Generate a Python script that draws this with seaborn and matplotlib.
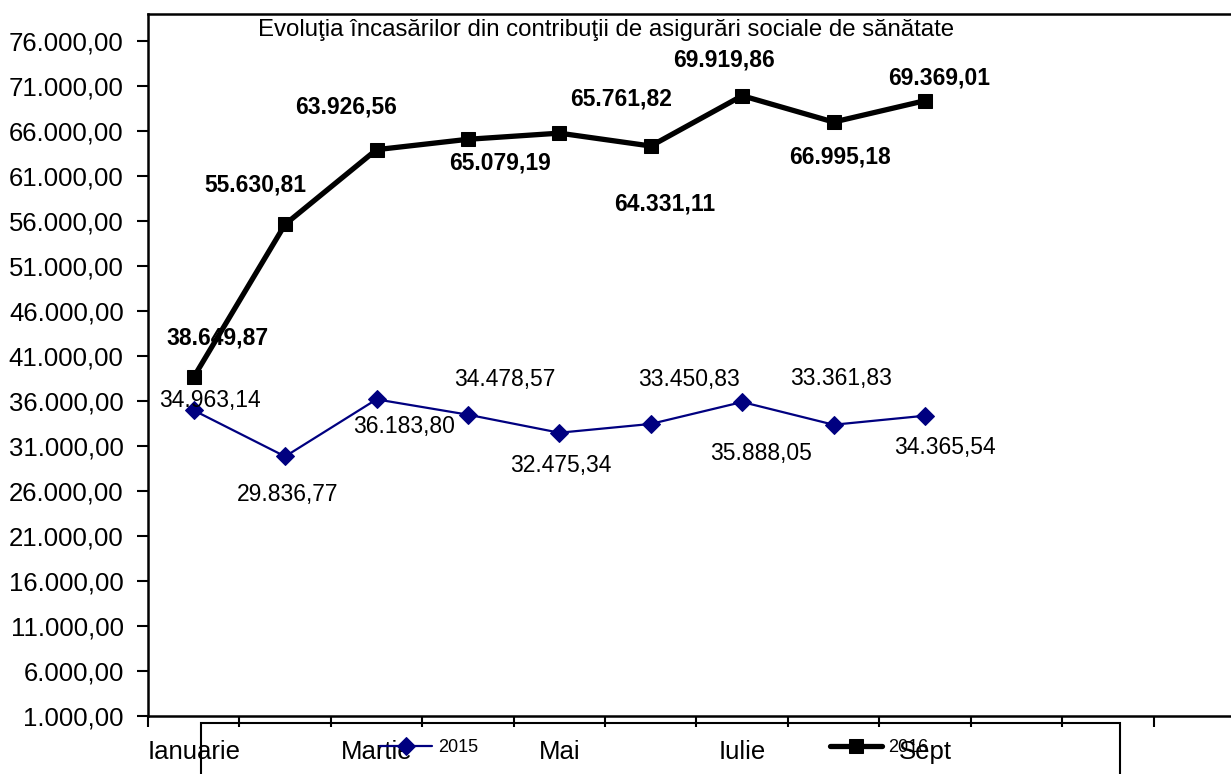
import numpy as np
import pandas as pd
import matplotlib
matplotlib.use("Agg")
import matplotlib.pyplot as plt
from matplotlib.patches import Rectangle
import seaborn as sns

# --- data ---
luni = ["Ianuarie", "Februarie", "Martie", "Aprilie", "Mai", "Iunie",
        "Iulie", "August", "Sept"]
val_2015 = [34963.14, 29836.77, 36183.80, 34478.57, 32475.34, 33450.83,
            35888.05, 33361.83, 34365.54]
val_2016 = [38649.87, 55630.81, 63926.56, 65079.19, 65761.82, 64331.11,
            69919.86, 66995.18, 69369.01]
etichete_x = ["Ianuarie", "", "Martie", "", "Mai", "", "Iulie", "", "Sept"]
y_ticks = list(range(1000, 76001, 5000))

# label offsets in pixels (dx, dy)
off_2015 = [(16, 10), (3, -38), (27, -27), (37, 35), (1, -33), (38, 44),
            (19, -51), (7, 46), (20, -32)]
off_2016 = [(24, 39), (-30, 39), (-30, 43), (32, -24), (62, 34), (14, -58),
            (-18, 36), (6, -35), (14, 23)]

def fmt_ro(v):
    s = f"{v:,.2f}"
    return s.replace(",", "X").replace(".", ",").replace("X", ".")

df = pd.DataFrame({"luna": luni, "2015": val_2015, "2016": val_2016})

sns.set_style("white")
plt.rcParams['font.family'] = ['Liberation Sans', 'DejaVu Sans']
plt.rcParams['text.color'] = 'black'
plt.rcParams['xtick.color'] = 'black'
plt.rcParams['ytick.color'] = 'black'

W, H = 1231, 774
fig = plt.figure(figsize=(W / 100, H / 100), dpi=100)
ax = fig.add_axes([148 / W, (H - 716) / H, 1097 / W, 702 / H])

sns.lineplot(data=df, x="luna", y="2015", ax=ax, color="#000080",
             linewidth=1.6, marker="D", markersize=9, markeredgecolor="#000080",
             label="2015", sort=False)
sns.lineplot(data=df, x="luna", y="2016", ax=ax, color="black",
             linewidth=3.8, marker="s", markersize=10, markeredgecolor="black",
             label="2016", sort=False)

for i, v in enumerate(val_2015):
    ax.annotate(fmt_ro(v), (i, v), xytext=off_2015[i], textcoords="offset pixels",
                ha="center", va="center", fontsize=16.5, color="black")
for i, v in enumerate(val_2016):
    ax.annotate(fmt_ro(v), (i, v), xytext=off_2016[i], textcoords="offset pixels",
                ha="center", va="center", fontsize=16.5, fontweight="bold",
                color="black")

ax.set_ylim(1000, 79000)
ax.set_xlim(-0.5, 11.5)
ax.set_yticks(y_ticks)
ax.set_yticklabels([fmt_ro(t) for t in y_ticks], fontsize=18.5, color="black")
ax.set_xticks(range(len(etichete_x)))
ax.set_xticklabels(etichete_x, fontsize=18.5, color="black")
ax.set_xticks(np.arange(-0.5, 12, 1), minor=True)
ax.tick_params(axis="x", which="major", bottom=True, length=0, pad=17)
ax.tick_params(axis="x", which="minor", bottom=True, length=8, width=1.5,
               direction="out", color="black")
ax.tick_params(axis="y", left=True, length=8, width=1.5, direction="out",
               pad=9.5, color="black")
ax.set_xlabel("")
ax.set_ylabel("")
for sp in ax.spines.values():
    sp.set_visible(True)
    sp.set_linewidth(1.8)
    sp.set_color("black")
ax.grid(False)

leg_h, leg_l = ax.get_legend_handles_labels()
ax.get_legend().remove()
fig.legend(leg_h, leg_l, ncol=2, loc="center left",
           bbox_to_anchor=(380 / W, 1 - 748 / H), frameon=False,
           fontsize=13, handlelength=2.9, handletextpad=0.3,
           columnspacing=19.5, borderpad=0, borderaxespad=0,
           labelcolor="black")
fig.add_artist(Rectangle((201 / W, -0.1), 919 / W, 0.1 + (H - 723) / H,
                         transform=fig.transFigure, fill=False,
                         edgecolor="black", linewidth=1.5))

fig.text(606 / W, 1 - 30 / H,
         "Evoluţia încasărilor din contribuţii de asigurări sociale de sănătate",
         ha="center", va="center", fontsize=17.3, color="black")

fig.savefig("out.png", dpi=100)
